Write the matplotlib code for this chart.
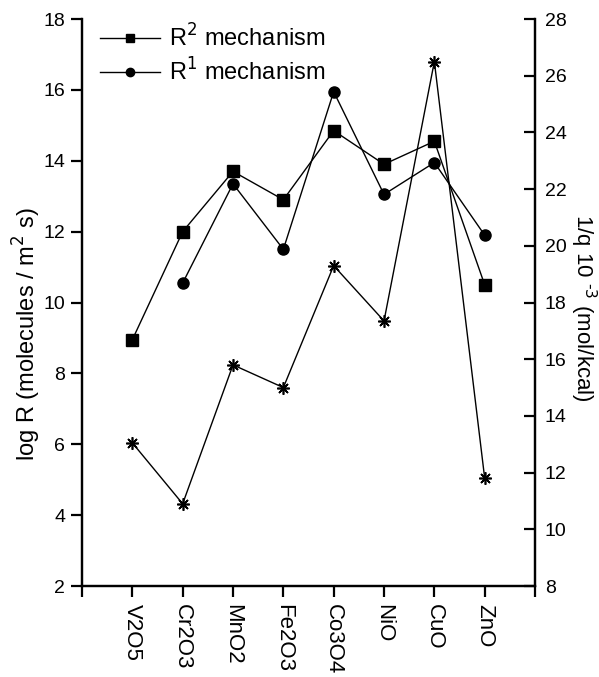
import numpy as np
import matplotlib.pyplot as plt

plt.rcParams['font.family'] = ['Liberation Sans', 'DejaVu Sans']

# data
oxides = ['V2O5', 'Cr2O3', 'MnO2', 'Fe2O3', 'Co3O4', 'NiO', 'CuO', 'ZnO']
logR2 = [8.95, 12.0, 13.7, 12.9, 14.85, 13.9, 14.55, 10.5]
logR1 = [np.nan, 10.55, 13.35, 11.5, 15.95, 13.05, 13.95, 11.9]
inv_q = [13.05, 10.9, 15.8, 15.0, 19.3, 17.35, 26.5, 11.8]

x = np.arange(1, len(oxides) + 1)

fig = plt.figure(figsize=(5.99, 6.77), dpi=100)
ax = fig.add_axes([0.1369, 0.1344, 0.7563, 0.8375])
ax2 = ax.twinx()

ax.plot(x, logR2, color='black', lw=1.0, marker='s', ms=8, label='R$^2$ mechanism')
ax.plot(x, logR1, color='black', lw=1.0, marker='o', ms=8, label='R$^1$ mechanism')
ax2.plot(x, inv_q, color='black', lw=1.0, marker=(8, 2, 0), ms=9, mew=1.2)

ax.set_xlim(0, 9)
ax.set_ylim(2, 18)
ax2.set_ylim(8, 28)
ax.set_yticks(np.arange(2, 19, 2))
ax2.set_yticks(np.arange(8, 29, 2))
ax.set_xticks(np.arange(0, 10))
ax.set_xticklabels([''] + oxides + [''], rotation=270, fontsize=16)

for a in (ax, ax2):
    a.spines['top'].set_visible(False)
    for s in a.spines.values():
        s.set_linewidth(1.6)
ax.tick_params(direction='out', length=8, width=1.6, labelsize=14, pad=4)
ax.tick_params(axis='x', pad=5, labelsize=16)
ax2.tick_params(direction='in', length=8, width=1.6, labelsize=14, pad=7)

fig.text(27 / 599, 1 - 334 / 677, 'log R (molecules / m$^2$ s)', fontsize=17,
         rotation=90, ha='center', va='center')
fig.text(583 / 599, 1 - 308 / 677, '1/q 10 $^{\\text{-}3}$ (mol/kcal)', fontsize=16,
         rotation=270, ha='center', va='center')

ax.legend(loc='upper left', bbox_to_anchor=(0.008, 1.016), frameon=False, fontsize=17,
          handlelength=2.55, handletextpad=0.38, labelspacing=0.28, markerscale=0.75,
          borderaxespad=0.2)

fig.savefig('out.png', dpi=100)
